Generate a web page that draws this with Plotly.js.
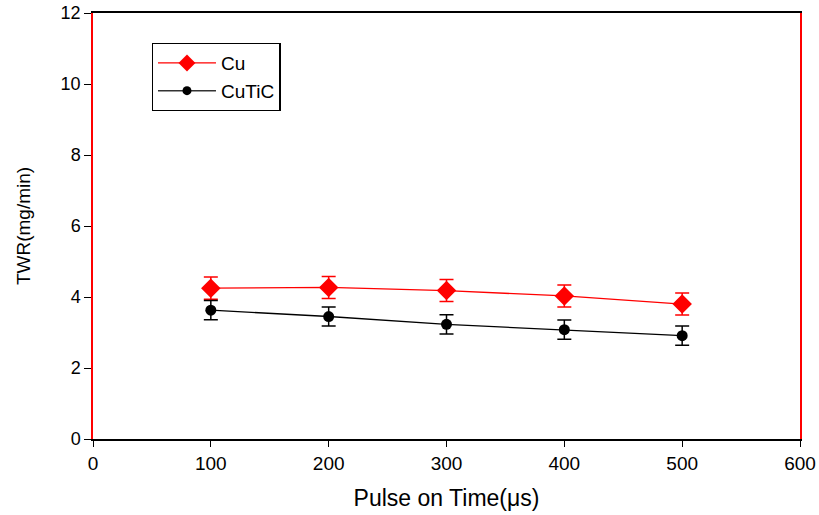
<!DOCTYPE html>
<html><head><meta charset="utf-8">
<script src="https://cdn.plot.ly/plotly-3.0.1.min.js"></script>
<style>body{margin:0;padding:0;background:#fff}#chart{width:819px;height:515px}</style>
</head><body><div id="chart"></div>
<script>
const pulseOn = [100, 200, 300, 400, 500];
const cuTWR = [4.25, 4.27, 4.18, 4.03, 3.80];
const cuErr = [0.31, 0.31, 0.31, 0.31, 0.31];
const cutic = [3.63, 3.45, 3.23, 3.08, 2.91];
const cuticErr = [0.27, 0.27, 0.27, 0.27, 0.27];
const xTicks = [0, 100, 200, 300, 400, 500, 600];
const yTicks = [0, 2, 4, 6, 8, 10, 12];

const traces = [
  {x: pulseOn, y: cuTWR, name: 'Cu', type: 'scatter', mode: 'lines+markers', showlegend: false,
   line: {color: '#ff0000', width: 1.3},
   marker: {symbol: 'diamond', size: 15, color: '#ff0000'},
   error_y: {type: 'data', array: cuErr, visible: true, color: '#ff0000', thickness: 1.5, width: 7}},
  {x: pulseOn, y: cutic, name: 'CuTiC', type: 'scatter', mode: 'lines+markers', showlegend: false,
   line: {color: '#000000', width: 1.3},
   marker: {symbol: 'circle', size: 11, color: '#000000'},
   error_y: {type: 'data', array: cuticErr, visible: true, color: '#000000', thickness: 1.5, width: 7}},
  // legend entries (no data points, smaller legend symbols as in the reference)
  {x: [null], y: [null], name: 'Cu', type: 'scatter', mode: 'lines+markers',
   line: {color: '#ff0000', width: 1.3}, marker: {symbol: 'diamond', size: 13, color: '#ff0000'}},
  {x: [null], y: [null], name: 'CuTiC', type: 'scatter', mode: 'lines+markers',
   line: {color: '#333333', width: 1.5}, marker: {symbol: 'circle', size: 9, color: '#000000'}}
];
const layout = {
  width: 819, height: 515,
  margin: {l: 93, r: 19, t: 13, b: 76},
  paper_bgcolor: '#fff', plot_bgcolor: '#fff',
  font: {family: 'Liberation Sans, Arial, sans-serif', color: '#000', size: 16},
  showlegend: true,
  legend: {x: 0.083, y: 0.93, xanchor: 'left', yanchor: 'top',
           bordercolor: '#000', borderwidth: 1.3, bgcolor: '#fff',
           font: {size: 19}, itemwidth: 58, entrywidth: 130, entrywidthmode: 'pixels',
           tracegroupgap: 0},
  xaxis: {range: [0, 600], tickvals: xTicks, ticktext: xTicks.map(String),
          showgrid: false, zeroline: false, showline: true, linecolor: '#000', linewidth: 1.5,
          mirror: true, ticks: 'outside', ticklen: 6, tickcolor: '#000', tickwidth: 1,
          tickfont: {size: 19},
          title: {text: 'Pulse on Time(μs)', font: {size: 23}, standoff: 17}},
  yaxis: {range: [0, 12], tickvals: yTicks, ticktext: yTicks.map(String),
          showgrid: false, zeroline: false, showline: true, linecolor: '#ff0000', linewidth: 1.5,
          mirror: true, ticks: 'outside', ticklen: 7, tickcolor: '#000', tickwidth: 1,
          tickfont: {size: 18},
          title: {text: 'TWR(mg/min)', font: {size: 19}, standoff: 25}}
};
Plotly.newPlot('chart', traces, layout, {displayModeBar: false});
</script></body></html>
